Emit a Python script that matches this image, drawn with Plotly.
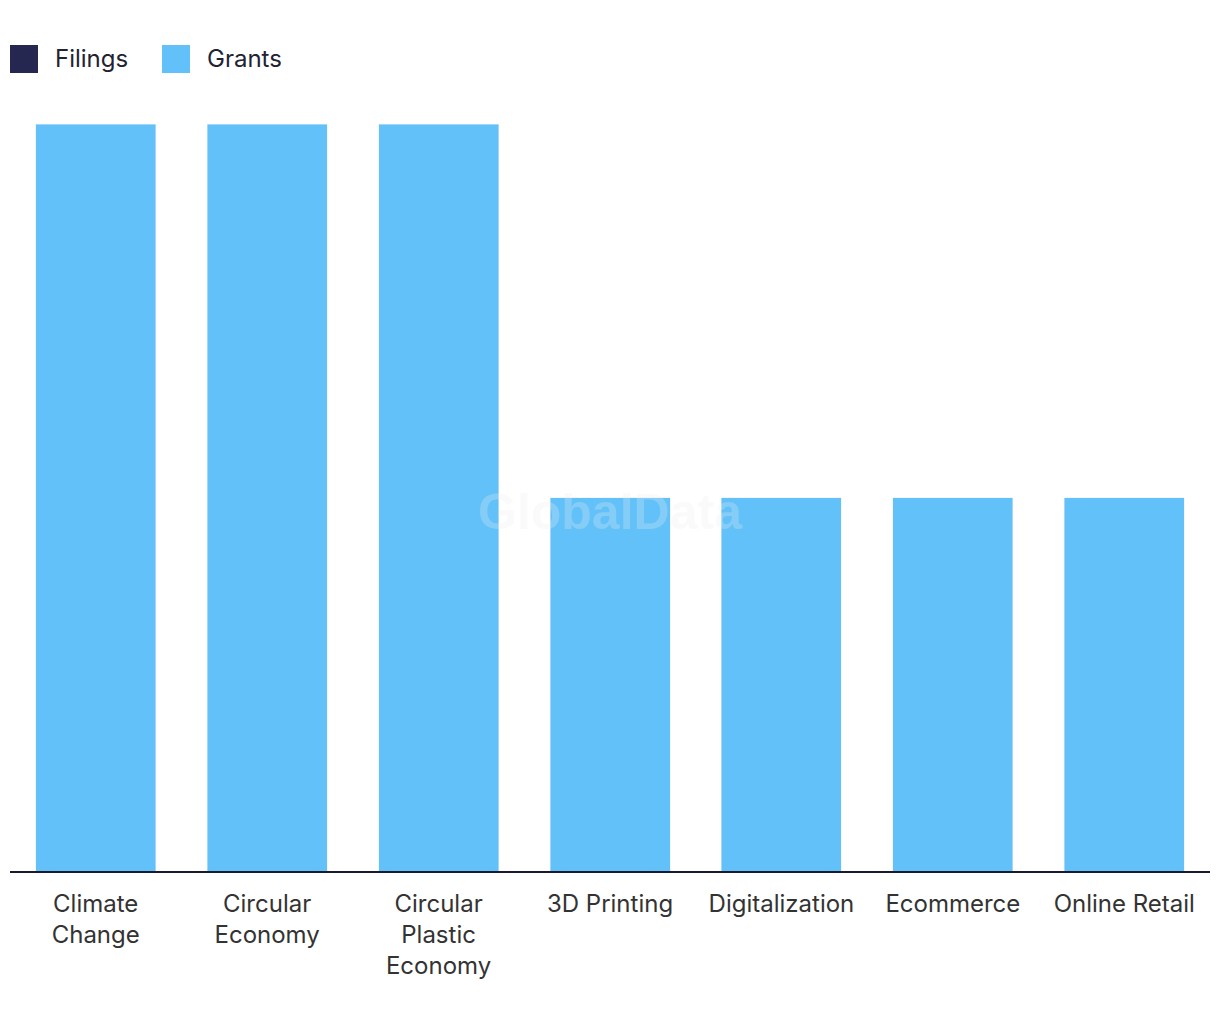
import plotly.graph_objects as go

categories = ["Climate<br>Change", "Circular<br>Economy", "Circular<br>Plastic<br>Economy",
              "3D Printing", "Digitalization", "Ecommerce", "Online Retail"]
filings = [0, 0, 0, 0, 0, 0, 0]
grants = [2, 2, 2, 1, 1, 1, 1]

FILINGS_COLOR = "#262750"
GRANTS_COLOR = "#62c1f9"
FONT = "Inter, Lato, sans-serif"

fig = go.Figure()
fig.add_trace(go.Bar(x=categories, y=filings, name="Filings", marker_color=FILINGS_COLOR, showlegend=False))
fig.add_trace(go.Bar(x=categories, y=grants, name="Grants", marker_color=GRANTS_COLOR, showlegend=False))

# custom legend (large square swatches), positions relative to plot area
W, H = 1200, 747
def px(x):
    return (x - 10) / W
def py(y):
    return (871 - y) / H

for x0, color, label in [(10, FILINGS_COLOR, "Filings"), (162, GRANTS_COLOR, "Grants")]:
    fig.add_shape(type="rect", xref="paper", yref="paper",
                  x0=px(x0), x1=px(x0 + 28), y0=py(73), y1=py(45),
                  fillcolor=color, line_width=0)
    fig.add_annotation(xref="paper", yref="paper", x=px(x0 + 43), y=py(58),
                       text=label, showarrow=False, xanchor="left", yanchor="middle",
                       font=dict(family=FONT, size=24, color="#222233"))

fig.add_annotation(xref="paper", yref="paper", x=px(610), y=py(512),
                   text="<b>GlobalData</b>", showarrow=False,
                   font=dict(family="Arial, Liberation Sans, sans-serif", size=50, color="#eeeeee"),
                   opacity=0.25)

fig.update_layout(
    barmode="stack",
    bargap=0.3,
    width=1220, height=1020,
    margin=dict(l=2, r=18, t=116, b=157),
    plot_bgcolor="white", paper_bgcolor="white",
    font=dict(family=FONT, size=24, color="#333333"),
    showlegend=False,
)
fig.update_xaxes(showline=True, linecolor="#1a1a2e", linewidth=2, ticks="",
                 ticklabelstandoff=10, tickfont=dict(size=24, color="#333333"))
fig.update_yaxes(range=[0, 2], visible=False, showgrid=False)

fig.write_html("out.html")
